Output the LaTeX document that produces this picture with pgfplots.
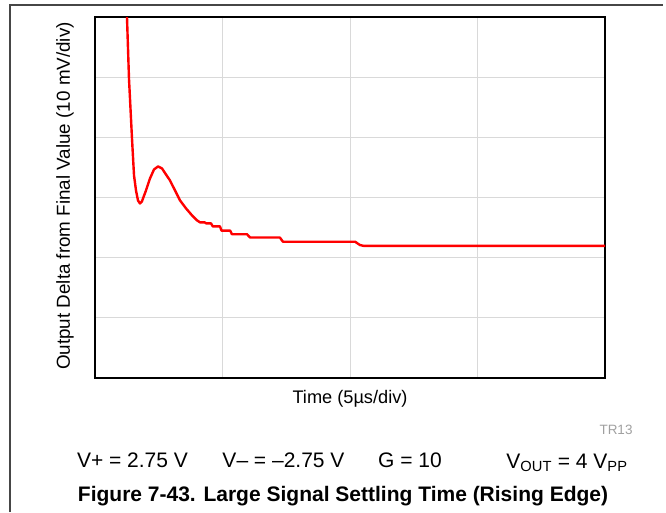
\documentclass[border=0pt]{standalone}
\usepackage{pgfplots}
\pgfplotsset{compat=1.18}
\usepackage{fontspec}
\setmainfont{Liberation Sans}
\definecolor{gridgray}{RGB}{217,217,217}
\definecolor{framegray}{RGB}{70,70,70}
\definecolor{tagray}{RGB}{160,160,160}
\begin{document}
\begin{tikzpicture}[x=1pt,y=1pt]
\useasboundingbox (0,0) rectangle (666,512);
\draw[framegray, line width=1.4pt] (10,0) -- (10,507) -- (663,507);
\begin{axis}[
  at={(95pt,134pt)}, anchor=south west,
  scale only axis, width=510pt, height=361pt,
  xmin=0, xmax=20, ymin=0, ymax=60,
  xtick={5,10,15}, ytick={10,20,30,40,50},
  xticklabels={}, yticklabels={},
  major tick length=0pt,
  grid=major,
  major grid style={gridgray, line width=1pt},
  axis line style={black, line width=2.8pt},
  clip=true,
]
\addplot[red, line width=2.4pt, line join=round] coordinates {
(1.22,64) (1.255,59.9) (1.333,49.75) (1.451,39.8) (1.53,33.67) (1.608,31.18)
(1.686,29.5) (1.765,29.0) (1.84,29.35) (2.0,31.18) (2.157,33.17) (2.314,34.66)
(2.47,35.16) (2.627,34.83) (2.784,33.83) (2.94,32.84) (3.137,31.18) (3.333,29.52)
(3.569,28.19) (3.804,27.03) (4.0,26.2) (4.12,25.87) (4.30,25.87) (4.36,25.7)
(4.55,25.7) (4.62,25.2) (4.90,25.2) (4.96,24.5) (5.3,24.5) (5.37,23.9)
(5.96,23.9) (6.08,23.35) (7.25,23.35) (7.37,22.65) (10.2,22.65) (10.39,22.1)
(10.55,21.95) (20,21.95)
};
\end{axis}
\node[font=\fontsize{18.2}{20}\selectfont] at (350,113) {Time (5µs/div)};
\node[font=\fontsize{18.8}{20}\selectfont, rotate=90] at (65,316) {Output Delta from Final Value (10 mV/div)};
\node[font=\fontsize{13.5}{15}\selectfont, text=tagray] at (616,82) {TR13};
\node[font=\fontsize{21}{24}\selectfont] at (132.5,52) {V+ = 2.75 V};
\node[font=\fontsize{21}{24}\selectfont] at (283.5,52) {V– = –2.75 V};
\node[font=\fontsize{21}{24}\selectfont] at (410,52) {G = 10};
\node[font=\fontsize{21}{24}\selectfont] at (567,49) {V\textsubscript{OUT} = 4 V\textsubscript{PP}};
\node[font=\fontsize{21}{24}\selectfont\bfseries] at (343,16) {Figure 7-43. Large Signal Settling Time (Rising Edge)};
\end{tikzpicture}
\end{document}
